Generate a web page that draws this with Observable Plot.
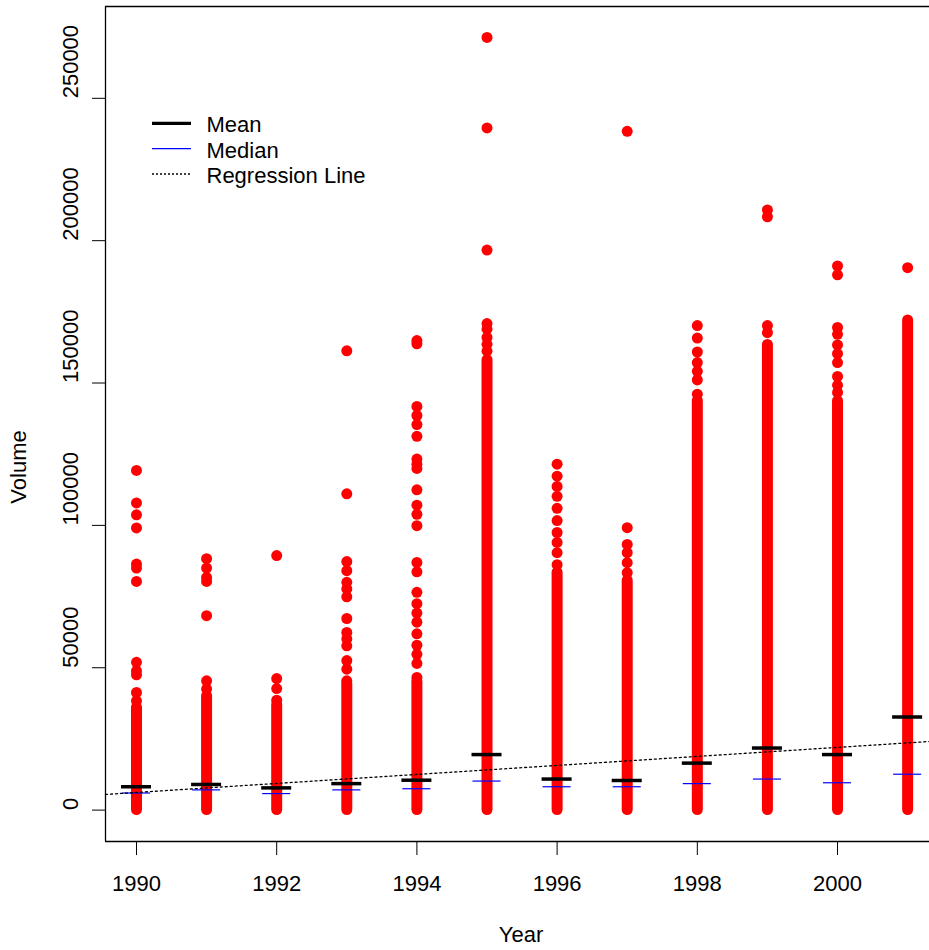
<!DOCTYPE html>
<html><head><meta charset="utf-8">
<script src="https://cdn.jsdelivr.net/npm/d3@7"></script>
<script src="https://cdn.jsdelivr.net/npm/@observablehq/plot@0.6"></script>
<style>
html,body{margin:0;padding:0;background:#fff;overflow:hidden;}
#chart{position:relative;width:929px;height:950px;overflow:hidden;}
</style></head><body><div id="chart"></div>
<script>
// ---- data ----
const years = [1990, 1991, 1992, 1993, 1994, 1995, 1996, 1997, 1998, 1999, 2000, 2001];
// top of the continuous (densely overplotted) run of points, starting at 0
const denseTop = [36000, 40000, 37000, 44300, 45100, 158000, 83400, 80600, 143700, 163400, 143600, 172000];
// separately visible points above the dense run
const outliers1990 = [119300, 107900, 103700, 99100, 86400, 85000, 80300, 51900, 48900, 47500, 41300, 38400];
const outliers1991 = [88300, 85000, 81700, 80300, 68300, 45400, 42500];
const outliers1992 = [89400, 46200, 42700, 38600];
const outliers1993 = [161300, 111100, 87300, 84100, 80000, 77700, 74900, 67300, 62400, 60100, 57700, 52500, 49500, 45400];
const outliers1994 = [164900, 163800, 141800, 138600, 135400, 131300, 123300, 121500, 120000, 112500, 107100, 103900, 99900, 87000, 83700, 76500, 72500, 69200, 66000, 61900, 57900, 54700, 51500, 46600];
const outliers1995 = [271400, 239600, 196700, 170900, 168900, 166000, 163600, 161200];
const outliers1996 = [121500, 117300, 113700, 110200, 106000, 101700, 97500, 94000, 90400, 86200];
const outliers1997 = [238400, 99200, 93300, 90400, 86900, 83400];
const outliers1998 = [170200, 165800, 160900, 157200, 154100, 151100, 146100];
const outliers1999 = [210800, 208400, 170200, 167700];
const outliers2000 = [191100, 188000, 169500, 167100, 163400, 160300, 157200, 152300, 149200, 146700];
const outliers2001 = [190500];
const means   = [8200, 9000, 7800, 9300, 10500, 19500, 10900, 10400, 16500, 21800, 19500, 32700];
const medians = [6000, 7100, 5800, 7100, 7500, 10200, 8200, 8200, 9300, 10900, 9600, 12600];
// regression line end points (at the plot region edges)
const regYears  = [1989.558, 2001.312];
const regValues = [5500, 24100];
const xTicks = [1990, 1992, 1994, 1996, 1998, 2000];
const yTicks = [0, 50000, 100000, 150000, 200000, 250000];
const legendLabels = ["Mean", "Median", "Regression Line"];
const xDomain = [1989.558, 2001.312];
const yDomain = [-11030, 282250];

// ---- tables ----
const outlierLists = [outliers1990, outliers1991, outliers1992, outliers1993, outliers1994, outliers1995,
  outliers1996, outliers1997, outliers1998, outliers1999, outliers2000, outliers2001];
const denseData = years.map((y, i) => ({year: y, top: denseTop[i]}));
const outlierData = years.flatMap((y, i) => outlierLists[i].map(v => ({year: y, value: v})));
const meanData = years.map((y, i) => ({year: y, value: means[i]}));
const medianData = years.map((y, i) => ({year: y, value: medians[i]}));
const regData = regYears.map((y, i) => ({year: y, value: regValues[i]}));

const font = "'Liberation Sans', Arial, Helvetica, sans-serif";

const plot = Plot.plot({
  width: 929, height: 950,
  marginLeft: 105, marginRight: 0, marginTop: 6, marginBottom: 109,
  style: {fontFamily: font, fontSize: "22px", background: "#fff", color: "#000", overflow: "hidden"},
  x: {domain: xDomain, label: null},
  y: {domain: yDomain, label: null},
  marks: [
    Plot.ruleX(denseData, {x: "year", y1: 0, y2: "top", stroke: "#ff0000", strokeWidth: 11, strokeLinecap: "round"}),
    Plot.dot(outlierData, {x: "year", y: "value", r: 5.5, fill: "#ff0000"}),
    Plot.ruleY(meanData, {y: "value", x1: d => d.year - 0.214, x2: d => d.year + 0.214, stroke: "#000", strokeWidth: 3.5}),
    Plot.ruleY(medianData, {y: "value", x1: d => d.year - 0.2, x2: d => d.year + 0.2, stroke: "#0000ff", strokeWidth: 1.2}),
    Plot.line(regData, {x: "year", y: "value", stroke: "#000", strokeWidth: 1.3, strokeDasharray: "2,3"}),
    Plot.ruleX([xDomain[0]], {stroke: "#000", strokeWidth: 1.3}),
    Plot.ruleY(yDomain, {stroke: "#000", strokeWidth: 1.3}),
    Plot.axisX({ticks: xTicks, tickSize: 14, tickPadding: 20, tickFormat: d => String(d), fontSize: 22, label: null, stroke: "#000"}),
    Plot.axisY({ticks: yTicks, tickSize: 13, tickFormat: () => "", label: null}),
    Plot.text(yTicks, {y: d => d, text: d => String(d), frameAnchor: "left", dx: -34.5, rotate: -90, fontSize: 22, fill: "#000"})
  ]
});
document.getElementById("chart").appendChild(plot);

// ---- legend and axis titles (inside the SVG) ----
const svg = d3.select(plot);
const lg = svg.append("g").attr("font-family", font).attr("font-size", 22).attr("fill", "#000").attr("text-anchor", "start");
const legendStyle = [
  {y: 123.3, stroke: "#000", w: 3.2, dash: null},
  {y: 148.7, stroke: "#0000ff", w: 1.2, dash: null},
  {y: 174, stroke: "#000", w: 1.3, dash: "2,2"}
];
legendLabels.forEach((label, i) => {
  const it = legendStyle[i];
  lg.append("line").attr("x1", 152).attr("x2", 191).attr("y1", it.y).attr("y2", it.y)
    .attr("stroke", it.stroke).attr("stroke-width", it.w).attr("stroke-dasharray", it.dash);
  lg.append("text").attr("x", 206.5).attr("y", it.y + 9).attr("text-anchor", "start").text(label);
});
const tg = svg.append("g").attr("font-family", font).attr("font-size", 22).attr("fill", "#000");
tg.append("text").attr("x", 521).attr("y", 942).attr("text-anchor", "middle").text("Year");
tg.append("text").attr("transform", "translate(26,467) rotate(-90)").attr("text-anchor", "middle").text("Volume");
</script>
</body></html>
